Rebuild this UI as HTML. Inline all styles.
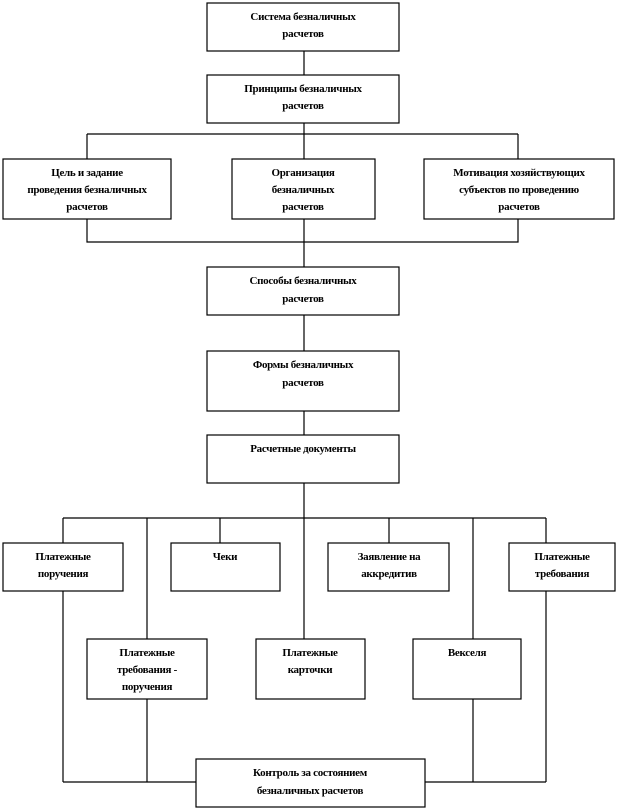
<!DOCTYPE html>
<html><head><meta charset="utf-8"><style>
html,body{margin:0;padding:0;background:#fff;}
svg{display:block}
text{font-family:"Liberation Serif",serif;font-weight:bold;font-size:11px;fill:#000;text-anchor:middle;letter-spacing:-0.3px}
rect{fill:#fff;stroke:#000;stroke-width:1.2}
line,polyline{stroke:#000;stroke-width:1.2;fill:none}
</style></head><body>
<svg width="618" height="810" viewBox="0 0 618 810" xmlns="http://www.w3.org/2000/svg">
<line x1="304" y1="51" x2="304" y2="75"/>
<line x1="304" y1="123" x2="304" y2="159"/>
<line x1="87" y1="134" x2="518" y2="134"/>
<line x1="87" y1="134" x2="87" y2="159"/>
<line x1="518" y1="134" x2="518" y2="159"/>
<polyline points="87,219 87,242 518,242 518,219"/>
<line x1="304" y1="219" x2="304" y2="267"/>
<line x1="304" y1="315" x2="304" y2="351"/>
<line x1="304" y1="411" x2="304" y2="435"/>
<line x1="304" y1="483" x2="304" y2="639"/>
<line x1="63" y1="518" x2="546" y2="518"/>
<line x1="63" y1="518" x2="63" y2="782"/>
<line x1="147" y1="518" x2="147" y2="782"/>
<line x1="220" y1="518" x2="220" y2="543"/>
<line x1="389" y1="518" x2="389" y2="543"/>
<line x1="473" y1="518" x2="473" y2="782"/>
<line x1="546" y1="518" x2="546" y2="782"/>
<line x1="63" y1="782" x2="196" y2="782"/>
<line x1="425" y1="782" x2="546" y2="782"/>
<rect x="207" y="3" width="192" height="48"/>
<text x="303" y="20">Система безналичных</text><text x="303" y="37">расчетов</text>
<rect x="207" y="75" width="192" height="48"/>
<text x="303" y="92">Принципы безналичных</text><text x="303" y="109">расчетов</text>
<rect x="3" y="159" width="168" height="60"/>
<text x="87" y="176">Цель и задание</text><text x="87" y="193">проведения безналичных</text><text x="87" y="210">расчетов</text>
<rect x="232" y="159" width="143" height="60"/>
<text x="303" y="176">Организация</text><text x="303" y="193">безналичных</text><text x="303" y="210">расчетов</text>
<rect x="424" y="159" width="190" height="60"/>
<text x="519" y="176">Мотивация хозяйствующих</text><text x="519" y="193">субъектов по проведению</text><text x="519" y="210">расчетов</text>
<rect x="207" y="267" width="192" height="48"/>
<text x="303" y="284">Способы безналичных</text><text x="303" y="302">расчетов</text>
<rect x="207" y="351" width="192" height="60"/>
<text x="303" y="368">Формы безналичных</text><text x="303" y="386">расчетов</text>
<rect x="207" y="435" width="192" height="48"/>
<text x="303" y="452">Расчетные документы</text>
<rect x="3" y="543" width="120" height="48"/>
<text x="63" y="560">Платежные</text><text x="63" y="577">поручения</text>
<rect x="171" y="543" width="109" height="48"/>
<text x="225" y="560">Чеки</text>
<rect x="328" y="543" width="121" height="48"/>
<text x="389" y="560">Заявление на</text><text x="389" y="577">аккредитив</text>
<rect x="509" y="543" width="106" height="48"/>
<text x="562" y="560">Платежные</text><text x="562" y="577">требования</text>
<rect x="87" y="639" width="120" height="60"/>
<text x="147" y="656">Платежные</text><text x="147" y="673">требования -</text><text x="147" y="690">поручения</text>
<rect x="256" y="639" width="109" height="60"/>
<text x="310" y="656">Платежные</text><text x="310" y="673">карточки</text>
<rect x="413" y="639" width="108" height="60"/>
<text x="467" y="656">Векселя</text>
<rect x="196" y="759" width="229" height="48"/>
<text x="310" y="776">Контроль за состоянием</text><text x="310" y="794">безналичных расчетов</text>
</svg>
</body></html>
